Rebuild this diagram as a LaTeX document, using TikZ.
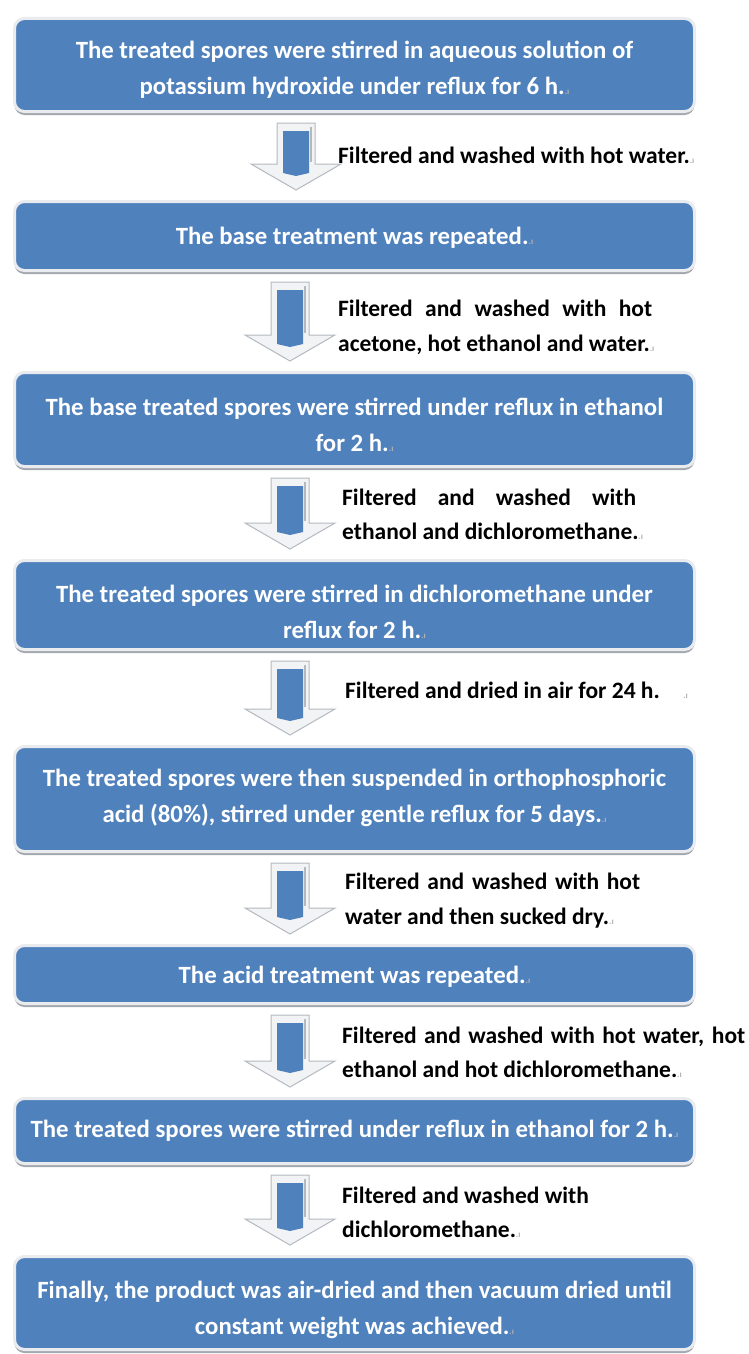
\documentclass[tikz,border=0pt]{standalone}
\usepackage{fontspec}
\setmainfont{Carlito}
\usetikzlibrary{shadows,calc}
\definecolor{boxblue}{HTML}{4F81BD}
\definecolor{rim}{HTML}{E9EBEF}
\definecolor{shade}{HTML}{A3A8AF}
\definecolor{arrfill}{HTML}{F2F3F5}
\definecolor{arredge}{HTML}{B4B9C0}
\newcommand\boxfont{\bfseries\fontsize{24.8}{36}\selectfont}
\newcommand\lblfont{\bfseries\fontsize{23.5}{34.5}\selectfont}
\newcommand\parmark{{\color{black!30}\fontsize{9}{9}\selectfont .ı}}
\newcommand\blockarrow[3]{%
 \draw[arrowbody] let \p1=(#1.south), \p2=(#2.north) in
  ({#3pt-19pt},{\y1-10pt}) -- ({#3pt+19pt},{\y1-10pt}) -- ({#3pt+19pt},{\y2+36pt})
  -- ({#3pt+45pt},{\y2+36pt}) -- ({#3pt},{\y2+10pt}) -- ({#3pt-45pt},{\y2+36pt})
  -- ({#3pt-19pt},{\y2+36pt}) -- cycle;
 \draw[arredge,line width=1.2pt] let \p1=(#1.south), \p2=(#2.north) in
  ({#3pt+15pt},{\y1-14pt}) -- ({#3pt+15pt},{\y2+38pt});
 \fill[boxblue] let \p1=(#1.south), \p2=(#2.north) in
  ({#3pt-13pt},{\y1-18pt}) -- ({#3pt+13pt},{\y1-18pt}) -- ({#3pt+13pt},{\y2+27pt})
  -- ({#3pt},{\y2+24pt}) -- ({#3pt-13pt},{\y2+27pt}) -- cycle;
}
\begin{document}
\begin{tikzpicture}[x=1pt,y=-1pt,
  stepbox/.style={rounded corners=10pt, fill=boxblue, draw=rim, line width=3pt,
    minimum width=680pt, inner sep=0pt,
    drop shadow={shadow xshift=0pt, shadow yshift=-3.5pt, fill=shade, opacity=1}},
  boxtext/.style={text=white, align=center, font=\boxfont, inner sep=0pt},
  lbl/.style={anchor=west, align=left, font=\lblfont, inner sep=0pt, text=black},
  arrowbody/.style={fill=arrfill, draw=arredge, line width=1pt, line join=miter}]
\useasboundingbox[fill=white] (0,0) rectangle (749,1354);

\node[stepbox, minimum height=93pt] (b1) at (354.5,65) {};
\node[stepbox, minimum height=69pt] (b2) at (354.5,236) {};
\node[stepbox, minimum height=94pt] (b3) at (354.5,419.5) {};
\node[stepbox, minimum height=89pt] (b4) at (354.5,605) {};
\node[stepbox, minimum height=105pt] (b5) at (354.5,799) {};
\node[stepbox, minimum height=58pt] (b6) at (354.5,974.5) {};
\node[stepbox, minimum height=65pt] (b7) at (354.5,1131) {};
\node[stepbox, minimum height=93pt] (b8) at (354.5,1303) {};

\node[boxtext] (t1) at (354.5,69.5)
  {The treated spores were stirred in aqueous solution of\\potassium hydroxide under reflux for 6 h.\parmark};
\node[boxtext] (t2) at (354.5,237.5)
  {The base treatment was repeated.\parmark};
\node[boxtext] (t3) at (354.5,424.5)
  {The base treated spores were stirred under reflux in ethanol\\for 2 h.\parmark};
\node[boxtext] (t4) at (354.5,611.5)
  {The treated spores were stirred in dichloromethane under\\reflux for 2 h.\parmark};
\node[boxtext] (t5) at (354.5,797.5)
  {The treated spores were then suspended in orthophosphoric\\acid (80\%), stirred under gentle reflux for 5 days.\parmark};
\node[boxtext] (t6) at (354.5,977)
  {The acid treatment was repeated.\parmark};
\node[boxtext] (t7) at (354.5,1131)
  {The treated spores were stirred under reflux in ethanol for 2 h.\parmark};
\node[boxtext] (t8) at (354.5,1309.5)
  {Finally, the product was air-dried and then vacuum dried until\\constant weight was achieved.\parmark};

\blockarrow{b1}{b2}{296}
\blockarrow{b2}{b3}{290}
\blockarrow{b3}{b4}{290}
\blockarrow{b4}{b5}{290}
\blockarrow{b5}{b6}{290}
\blockarrow{b6}{b7}{290}
\blockarrow{b7}{b8}{290}

\node[lbl] (l1) at (338,155) {Filtered and washed with hot water.\parmark};
\node[lbl] (l2) at (338,327.5) {\makebox[314pt][s]{Filtered and washed with hot}\\acetone, hot ethanol and water.\parmark};
\node[lbl] (l3) at (342,514.5) {\makebox[294pt][s]{Filtered and washed with}\\ethanol and dichloromethane.\parmark};
\node[lbl] (l4) at (345,690) {Filtered and dried in air for 24 h.\quad\parmark};
\node[lbl] (l5) at (345,900.5) {\makebox[295pt][s]{Filtered and washed with hot}\\water and then sucked dry.\parmark};
\node[lbl] (l6) at (342,1052.5) {\makebox[403pt][s]{Filtered and washed with hot water, hot}\\ethanol and hot dichloromethane.\parmark};
\node[lbl] (l7) at (342,1212.5) {Filtered and washed with\\dichloromethane.\parmark};
\end{tikzpicture}
\end{document}
